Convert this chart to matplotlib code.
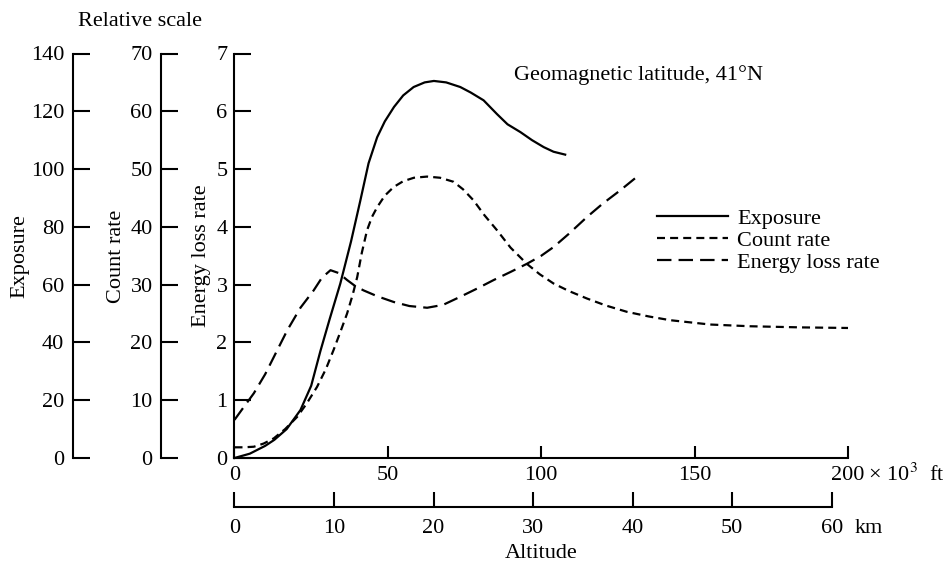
import numpy as np
import matplotlib.pyplot as plt
from matplotlib.transforms import blended_transform_factory

plt.rcParams['font.family'] = ['Liberation Serif', 'DejaVu Serif']
plt.rcParams['mathtext.fontset'] = 'stix'

# altitude in 10^3 ft
exp_alt = [0, 5, 10, 13, 17, 21.5, 25, 28, 31, 34.5, 38, 41, 43.7, 46.5, 49,
           52, 55, 58.4, 62, 65, 69, 73.6, 77, 81.2, 85.6, 89, 93.2, 97, 100.8,
           104, 107.8]
exposure = [0, 1.5, 4.2, 6.3, 10, 16.6, 25, 37, 48, 60.4, 75, 89, 102, 111, 116.5,
            121.5, 125.5, 128.4, 130, 130.5, 130, 128.4, 126.5, 123.8, 119, 115.5,
            112.8, 110, 107.6, 106, 105]

cnt_alt = [0, 3, 6.3, 9.5, 12.8, 16.5, 20.4, 23.5, 26.9, 29.8, 32.3, 34.5, 36.7,
           38.5, 40, 41.5, 43.2, 44.8, 46.5, 49, 51.9, 55, 58.5, 62.8, 67, 71.4,
           74.5, 77.9, 81.5, 85.6, 90, 95.3, 99.5, 104, 109, 114.9, 121, 127.9,
           135, 142, 155, 168, 185, 200]
count = [1.85, 1.85, 1.95, 2.5, 3.4, 5, 7.1, 9.4, 12.3, 15.4, 18.7, 21.8, 25,
         28.2, 31.3, 35.5, 39.4, 41.7, 43.4, 45.4, 46.9, 47.9, 48.5, 48.7, 48.5,
         47.8, 46.5, 44.6, 42, 39.4, 36.4, 33.6, 31.8, 30.2, 28.9, 27.6, 26.4,
         25.3, 24.5, 23.85, 23.1, 22.8, 22.6, 22.5]

elr_alt = [0, 3, 6.3, 10, 13.5, 17.2, 21.5, 25.8, 28.5, 31.3, 34, 36.7, 39.5,
           42.1, 46.5, 51.9, 57, 62.8, 68, 73.6, 79, 84.5, 90, 95.3, 100, 104,
           109, 114.9, 120, 125.7, 132.2]
energy_loss = [0.66, 0.88, 1.12, 1.45, 1.82, 2.21, 2.6, 2.9, 3.12, 3.25, 3.2, 3.08,
               2.97, 2.9, 2.8, 2.7, 2.63, 2.6, 2.65, 2.79, 2.93, 3.08, 3.22, 3.36,
               3.5, 3.65, 3.88, 4.17, 4.4, 4.63, 4.91]

ft_ticks = [0, 50, 100, 150, 200]
km_ticks = [0, 10, 20, 30, 40, 50, 60]

W, H = 953, 567
FS = 16
LW = 1.5


def fx(px):
    return px / W


def fy(py):
    return 1 - py / H


fig = plt.figure(figsize=(W / 100, H / 100), dpi=100)

x0, x1 = 234.5, 848
y0, y1 = 458, 53.5
ax = fig.add_axes([fx(x0), fy(y0), fx(x1 - x0), (y0 - y1) / H])
ax.set_xlim(0, 200)
ax.set_ylim(0, 7)
for s in ['top', 'right']:
    ax.spines[s].set_visible(False)
for s in ['left', 'bottom']:
    ax.spines[s].set_linewidth(LW)
ax.set_xticks(ft_ticks)
ax.set_yticks(range(8))
ax.tick_params(axis='y', direction='in', length=12.5, width=LW, labelsize=FS, pad=5)
ax.tick_params(axis='x', direction='in', length=9, width=LW, labelsize=FS, pad=6)
ax.patch.set_visible(False)


def side_axis(px, top, step):
    a = fig.add_axes([fx(px), fy(y0), 0.02, (y0 - y1) / H])
    a.set_ylim(0, top)
    a.set_yticks(np.arange(0, top + 1, step))
    a.set_xticks([])
    for s in ['top', 'right', 'bottom']:
        a.spines[s].set_visible(False)
    a.spines['left'].set_linewidth(LW)
    a.tick_params(axis='y', direction='in', length=12.5, width=LW, labelsize=FS, pad=6)
    a.patch.set_visible(False)
    return a


ax_exp = side_axis(72.7, 140, 20)
ax_cnt = side_axis(161, 70, 10)

# exposure / count rate use the main altitude scale but their own y scale
l1, = ax_exp.plot(exp_alt, exposure, color='black', lw=1.6, label='Exposure',
                  transform=blended_transform_factory(ax.transData, ax_exp.transData),
                  clip_on=False)
l2, = ax_cnt.plot(cnt_alt, count, color='black', lw=1.6, dashes=(3.6, 2.3),
                  label='Count rate', clip_on=False,
                  transform=blended_transform_factory(ax.transData, ax_cnt.transData))
l3, = ax.plot(elr_alt, energy_loss, color='black', lw=1.6, dashes=(6.5, 3.2),
              label='Energy loss rate')

# km axis
ax_km = fig.add_axes([fx(x0), fy(506.7), fx(831.7 - x0), 0.0001])
ax_km.set_xlim(0, 60)
ax_km.set_xticks(km_ticks)
ax_km.set_yticks([])
for s in ['top', 'right', 'left']:
    ax_km.spines[s].set_visible(False)
ax_km.spines['bottom'].set_linewidth(LW)
ax_km.tick_params(axis='x', direction='in', length=11, width=LW, labelsize=FS, pad=9)

fig.text(fx(863), fy(481), ' \u00d7 10$^3$  ft', fontsize=FS, ha='left', va='baseline')
fig.text(fx(855), fy(533), 'km', fontsize=FS, ha='left', va='baseline')
fig.text(fx(541), fy(553), 'Altitude', fontsize=FS, ha='center', va='center')
fig.text(fx(140), fy(22), 'Relative scale', fontsize=FS, ha='center', va='center')
fig.text(fx(20), fy(256), 'Exposure', fontsize=FS, rotation=90, ha='center', va='center')
fig.text(fx(117), fy(256), 'Count rate', fontsize=FS, rotation=90, ha='center', va='center')
fig.text(fx(202), fy(256), 'Energy loss rate', fontsize=FS, rotation=90, ha='center', va='center')
fig.text(fx(514), fy(75), 'Geomagnetic latitude, 41°N', fontsize=FS, ha='left', va='center')

fig.legend(handles=[l1, l2, l3], loc='upper left',
           bbox_to_anchor=(fx(657), fy(208)), frameon=False, fontsize=FS,
           handlelength=3.2, handletextpad=0.4, labelspacing=0.08,
           borderpad=0, borderaxespad=0)

fig.savefig('out.png', dpi=100)
